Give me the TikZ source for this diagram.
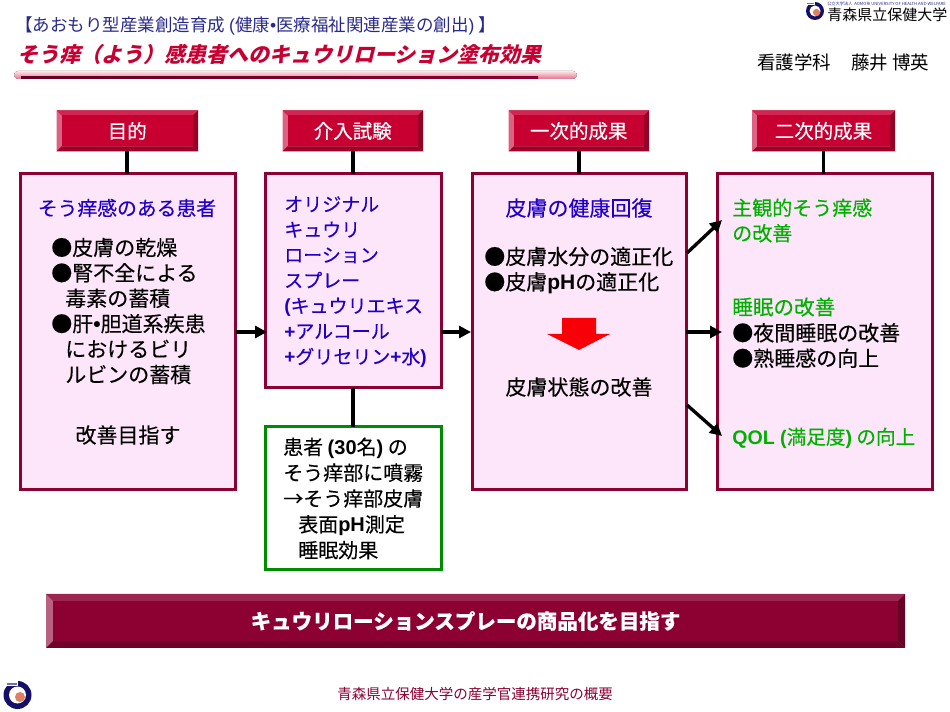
\documentclass[tikz,border=0pt]{standalone}
\usepackage{fontspec}
\setmainfont{Noto Sans CJK JP}[FakeBold=0.2]
\newfontfamily\plainf{Noto Sans CJK JP}
\newfontfamily\latf{Liberation Sans}
\newfontfamily\titlef{Noto Sans CJK JP}[BoldFeatures={FakeSlant=0.25}]
\newcommand{\lat}[1]{{\latf\bfseries #1}}
\usetikzlibrary{calc,arrows.meta}
\definecolor{navy}{HTML}{2A2A8C}
\definecolor{crim}{HTML}{C80032}
\definecolor{maroon}{HTML}{8C0032}
\definecolor{boxfill}{HTML}{FDE6FA}
\definecolor{bluetxt}{HTML}{2000C8}
\definecolor{greentxt}{HTML}{00B000}
\definecolor{logonavy}{HTML}{14106A}
\definecolor{logoorange}{HTML}{E08060}
\newlength{\pxu}\setlength{\pxu}{0.75pt}
\newcommand{\fs}[1]{\fontsize{#1\pxu}{25.4\pxu}\selectfont}
\newcommand{\bevel}[7]{%
  \fill[#6!62!white] (#1,#2) rectangle (#3,#4);
  \fill[#6!62!white] (#1,#2) -- (#1+#5,#2+#5) -- (#1+#5,#4-#5) -- (#1,#4) -- cycle;
  \fill[#6!85!white] (#1,#2) -- (#3,#2) -- (#3-#5,#2+#5) -- (#1+#5,#2+#5) -- cycle;
  \fill[#6!75!black] (#3,#2) -- (#3,#4) -- (#3-#5,#4-#5) -- (#3-#5,#2+#5) -- cycle;
  \fill[#6!80!black] (#1,#4) -- (#3,#4) -- (#3-#5,#4-#5) -- (#1+#5,#4-#5) -- cycle;
  \fill[#6] (#1+#5,#2+#5) rectangle (#3-#5,#4-#5);
  \coordinate (#7) at ({(#1+#3)/2},{(#2+#4)/2});
}
\begin{document}
\begin{tikzpicture}[x=0.75pt,y=-0.75pt,
  panel/.style={draw=maroon,line width=2.25pt,fill=boxfill,inner sep=0pt,outer sep=0pt},
  greenpanel/.style={draw=green!55!black,line width=2.25pt,fill=white,inner sep=0pt,outer sep=0pt},
  stem/.style={draw=black,line width=2.7pt},
  flow/.style={draw=black,line width=2.5pt,-{Triangle[length=9pt,width=9pt]}},
  headtxt/.style={text=white,font=\fs{19.5}},
  txt/.style={anchor=west,inner sep=0pt,align=left,font=\fs{21}},
  ctxt/.style={anchor=center,inner sep=0pt,align=center,font=\fs{21}}]
\useasboundingbox (0,0) rectangle (950,712);
\fill[white] (0,0) rectangle (950,712);

% title
\node[txt,text=navy,font={\fs{17.5}\plainf}] (t1) at (15,26) {【あおもり型産業創造育成 {\latf(}健康{\latf•}医療福祉関連産業の創出{\latf)} 】};
\node[txt,text=crim,font={\fs{21}\titlef\bfseries}] (t2) at (17,54) {そう痒（よう）感患者へのキュウリローション塗布効果};
\fill[rounded corners=3pt,top color=pink!40!white,bottom color=crim!55!white] (14,71) rectangle (577,79);
\fill[left color=maroon!70!black,right color=maroon] (21,76.5) rectangle (538,78.5);

% upper right
\fill[logonavy] (815,11) circle (9);
\fill[white] (815,11) circle (5.5);
\fill[logoorange] (816.5,12.5) circle (3.6);
\fill[white] (805,1) rectangle (815,5);
\fill[logonavy!60!white] (807,3) rectangle (814,4.5);
\node[txt,text=black,font={\fs{15}\plainf}] (univ) at (827,15) {青森県立保健大学};
\node[txt,text=navy,font={\fs{4.2}\plainf}] (univs) at (827,4) {公立大学法人 \ AOMORI UNIVERSITY OF HEALTH AND WELFARE};
\node[txt,text=black,font={\fs{18.5}\plainf}] (auth) at (757,63) {看護学科\hspace{20\pxu}藤井 博英};

% panels
\node[panel,minimum width=161.25pt,minimum height=237pt] (b1) at (128,332) {};
\node[panel,minimum width=132pt,minimum height=160.5pt] (b2) at (353,281) {};
\node[panel,minimum width=160.5pt,minimum height=237pt] (b3) at (579,332) {};
\node[panel,minimum width=161.25pt,minimum height=237pt] (b4) at (824.5,332) {};
\node[greenpanel,minimum width=132pt,minimum height=107.25pt] (b5) at (353,498.5) {};

% headers
\bevel{56.5}{110.5}{198}{151.5}{5}{crim}{h1c}
\bevel{282.5}{110.5}{423}{151.5}{5}{crim}{h2c}
\bevel{508.5}{110.5}{649}{151.5}{5}{crim}{h3c}
\bevel{752}{110.5}{895}{151.5}{5}{crim}{h4c}
\node[headtxt] (h1) at (h1c) {目的};
\node[headtxt] (h2) at (h2c) {介入試験};
\node[headtxt] (h3) at (h3c) {一次的成果};
\node[headtxt] (h4) at (h4c) {二次的成果};
\coordinate (h1s) at ($(h1c)+(0,20.5)$);
\coordinate (h2s) at ($(h2c)+(0,20.5)$);
\coordinate (h3s) at ($(h3c)+(0,20.5)$);
\coordinate (h4s) at ($(h4c)+(0,20.5)$);
\draw[stem] (h1s) -- (h1s |- b1.north);
\draw[stem] (h2s) -- (h2s |- b2.north);
\draw[stem] (h3s) -- (h3s |- b3.north);
\draw[stem] (h4s) -- (h4s |- b4.north);
\draw[stem] (b2.south) -- (b5.north);

% flows
\coordinate (i0) at (267,332);
\coordinate (i00) at (471,332);
\coordinate (o1) at (687,253);
\coordinate (i1) at (722,220);
\coordinate (i2) at (722,332);
\coordinate (o3) at (687,405);
\coordinate (i3) at (722,436);
\draw[flow] (b1.east) -- (i0);
\draw[flow] (b2.east |- i0) -- (i00);
\draw[flow] (o1) -- (i1);
\draw[flow] (b3.east) -- (i2);
\draw[flow] (o3) -- (i3);

% box 1
\node[ctxt,text=bluetxt,font=\fs{19.8}] (a1) at (127,208) {そう痒感のある患者};
\node[txt,text=black] (a2) at (51,311) {●皮膚の乾燥\\●腎不全による\\\hspace{14\pxu}毒素の蓄積\\●肝{\latf\bfseries•}胆道系疾患\\\hspace{14\pxu}におけるビリ\\\hspace{14\pxu}ルビンの蓄積};
\node[ctxt,text=black] (a3) at (128,435) {改善目指す};

% box 2
\node[txt,text=bluetxt,font=\fs{19}] (c1) at (284,282) {オリジナル\\キュウリ\\ローション\\スプレー\\\lat{(}キュウリエキス\\\lat{+}アルコール\\\lat{+}グリセリン\lat{+}水\lat{)}};

% box 5
\node[txt,text=black,font={\fontsize{20\pxu}{25.8\pxu}\selectfont}] (e1) at (283,498.5) {患者 \lat{(30}名\lat{)} の\\そう痒部に噴霧\\→そう痒部皮膚\\\hspace{15\pxu}表面\lat{pH}測定\\\hspace{15\pxu}睡眠効果};

% box 3
\node[ctxt,text=bluetxt] (d1) at (579,208) {皮膚の健康回復};
\node[txt,text=black] (d2) at (484,270.5) {●皮膚水分の適正化\\●皮膚\lat{pH}の適正化};
\fill[red!85!crim] (562,318) -- (596,318) -- (596,334) -- (610,334) -- (579,350) -- (547,334) -- (562,334) -- cycle;
\node[ctxt,text=black] (d3) at (579,387) {皮膚状態の改善};

% box 4
\node[txt,text=greentxt,font=\fs{20}] (f1) at (732,220.5) {主観的そう痒感\\の改善};
\node[txt,text=greentxt,font=\fs{20.6}] (f2) at (732,307) {睡眠の改善};
\node[txt,text=black] (f3) at (732,345.5) {●夜間睡眠の改善\\●熟睡感の向上};
\node[txt,text=greentxt,font=\fs{19.6}] (f4) at (732,438) {\lat{QOL (}満足度\lat{)} の向上};

% banner
\bevel{46}{594}{905}{648}{7}{maroon}{bc}
\node[text=white,font={\fs{20.5}\bfseries}] (bt) at ($(bc)+(-10,0)$) {キュウリローションスプレーの商品化を目指す};

% lower left logo and footer
\fill[logonavy] (17.5,695) circle (14);
\fill[white] (17.5,695) circle (8.5);
\fill[logoorange] (20,697) circle (5);
\fill[white] (5,680) rectangle (18,686);
\fill[logonavy!60!white] (7,682.5) rectangle (17,685);
\node[txt,text=maroon,font={\fs{14.5}\plainf}] (foot) at (337,694) {青森県立保健大学の産学官連携研究の概要};
\end{tikzpicture}
\end{document}
